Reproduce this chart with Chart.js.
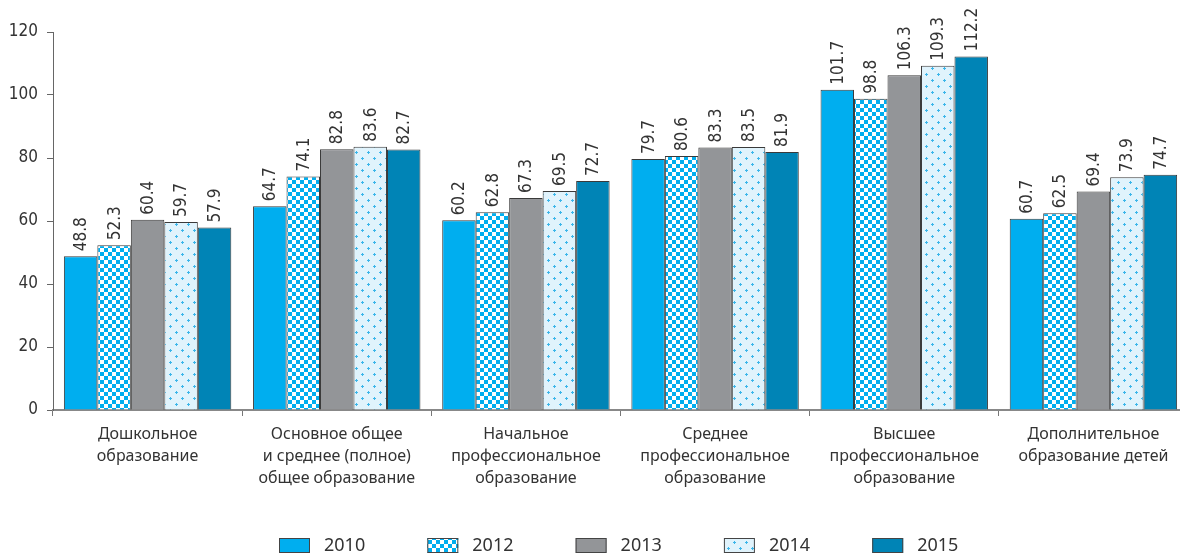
<!DOCTYPE html>
<html lang="ru">
<head>
    <meta charset="UTF-8">
    <title>Образование по годам</title>
    <script src="https://cdn.jsdelivr.net/npm/chart.js"></script>
    <style>
        body { margin: 0; background: #fff; overflow: hidden; }
        #wrap { width: 1180px; height: 556px; overflow: hidden; }
    </style>
    <script>
        // Categories (multi-line labels) and series values
        const categories = [
            ['Дошкольное', 'образование'],
            ['Основное общее', 'и среднее (полное)', 'общее образование'],
            ['Начальное', 'профессиональное', 'образование'],
            ['Среднее', 'профессиональное', 'образование'],
            ['Высшее', 'профессиональное', 'образование'],
            ['Дополнительное', 'образование детей']
        ];
        const years = ['2010', '2012', '2013', '2014', '2015'];
        const v2010 = [48.8, 64.7, 60.2, 79.7, 101.7, 60.7];
        const v2012 = [52.3, 74.1, 62.8, 80.6, 98.8, 62.5];
        const v2013 = [60.4, 82.8, 67.3, 83.3, 106.3, 69.4];
        const v2014 = [59.7, 83.6, 69.5, 83.5, 109.3, 73.9];
        const v2015 = [57.9, 82.7, 72.7, 81.9, 112.2, 74.7];
        const yTicks = [0, 20, 40, 60, 80, 100, 120];

        const numFont = "'Liberation Sans Narrow', 'DejaVu Sans Condensed', sans-serif";
        const textFont = "'Noto Sans', sans-serif";

        // checker pattern for 2012
        function checkerPattern() {
            const c = document.createElement('canvas');
            c.width = 8; c.height = 8;
            const g = c.getContext('2d');
            g.fillStyle = '#ffffff';
            g.fillRect(0, 0, 8, 8);
            g.fillStyle = '#00aeef';
            g.fillRect(0, 0, 4, 4);
            g.fillRect(4, 4, 4, 4);
            return g.createPattern(c, 'repeat');
        }

        // light blue with small crosses for 2014
        function dotPattern() {
            const c = document.createElement('canvas');
            c.width = 12; c.height = 12;
            const g = c.getContext('2d');
            g.fillStyle = '#e0f3fc';
            g.fillRect(0, 0, 12, 12);
            g.fillStyle = '#3bb6ea';
            [[2, 2], [8, 8]].forEach(p => {
                g.fillRect(p[0], p[1] - 1, 1, 3);
                g.fillRect(p[0] - 1, p[1], 3, 1);
            });
            return g.createPattern(c, 'repeat');
        }

        // values written vertically above each bar
        const barValues = {
            id: 'barValues',
            afterDatasetsDraw(chart) {
                const ctx = chart.ctx;
                ctx.save();
                ctx.font = '17px ' + numFont;
                ctx.fillStyle = '#333';
                ctx.textAlign = 'left';
                ctx.textBaseline = 'middle';
                chart.data.datasets.forEach((ds, i) => {
                    chart.getDatasetMeta(i).data.forEach((bar, j) => {
                        ctx.save();
                        ctx.translate(bar.x, bar.y - 5);
                        ctx.rotate(-Math.PI / 2);
                        ctx.fillText(ds.data[j].toFixed(1), 0, 1);
                        ctx.restore();
                    });
                });
                ctx.restore();
            }
        };

        // legend row at the bottom
        const bottomLegend = {
            id: 'bottomLegend',
            afterDraw(chart) {
                const ctx = chart.ctx;
                ctx.save();
                ctx.font = '18px ' + textFont;
                ctx.textBaseline = 'middle';
                ctx.textAlign = 'left';
                chart.data.datasets.forEach((ds, i) => {
                    const x = 279 + i * 148.3;
                    const y = 538;
                    ctx.fillStyle = ds.backgroundColor;
                    ctx.fillRect(x, y, 31, 15);
                    ctx.strokeStyle = '#444';
                    ctx.lineWidth = 1;
                    ctx.strokeRect(x + 0.5, y + 0.5, 30, 14);
                    ctx.fillStyle = '#333';
                    ctx.fillText(ds.label, x + 45, y + 8);
                });
                ctx.restore();
            }
        };

        window.onload = function () {
            const fills = ['#00aeef', checkerPattern(), '#939598', dotPattern(), '#0084b6'];
            const series = [v2010, v2012, v2013, v2014, v2015];
            const ctx = document.getElementById('eduChart').getContext('2d');
            new Chart(ctx, {
                type: 'bar',
                data: {
                    labels: categories,
                    datasets: years.map((y, i) => ({
                        label: y,
                        data: series[i],
                        backgroundColor: fills[i],
                        borderColor: '#3a3a3a',
                        borderWidth: 1,
                        categoryPercentage: 0.885,
                        barPercentage: 1
                    }))
                },
                options: {
                    responsive: false,
                    animation: false,
                    layout: { padding: { top: 32, right: 0, bottom: 0, left: 1 } },
                    plugins: {
                        legend: { display: false },
                        tooltip: { enabled: false }
                    },
                    scales: {
                        x: {
                            grid: {
                                drawOnChartArea: false,
                                tickLength: 6,
                                color: '#777',
                                offset: true
                            },
                            border: { color: '#888', width: 2 },
                            ticks: {
                                color: '#333',
                                font: { family: textFont, size: 16, lineHeight: 1.35 },
                                padding: 8,
                                maxRotation: 0,
                                autoSkip: false
                            },
                            afterFit(scale) { scale.height = 146; }
                        },
                        y: {
                            min: 0,
                            max: 120,
                            afterBuildTicks(scale) {
                                scale.ticks = yTicks.map(v => ({ value: v }));
                            },
                            grid: {
                                drawOnChartArea: false,
                                tickLength: 6,
                                color: '#666'
                            },
                            border: { color: '#666', width: 1 },
                            ticks: {
                                color: '#333',
                                font: { family: numFont, size: 17 },
                                padding: 9
                            },
                            afterFit(scale) { scale.width = 52; }
                        }
                    }
                },
                plugins: [barValues, bottomLegend]
            });
        };
    </script>
</head>
<body>
    <div id="wrap">
        <canvas id="eduChart" width="1188" height="556"></canvas>
    </div>
</body>
</html>
